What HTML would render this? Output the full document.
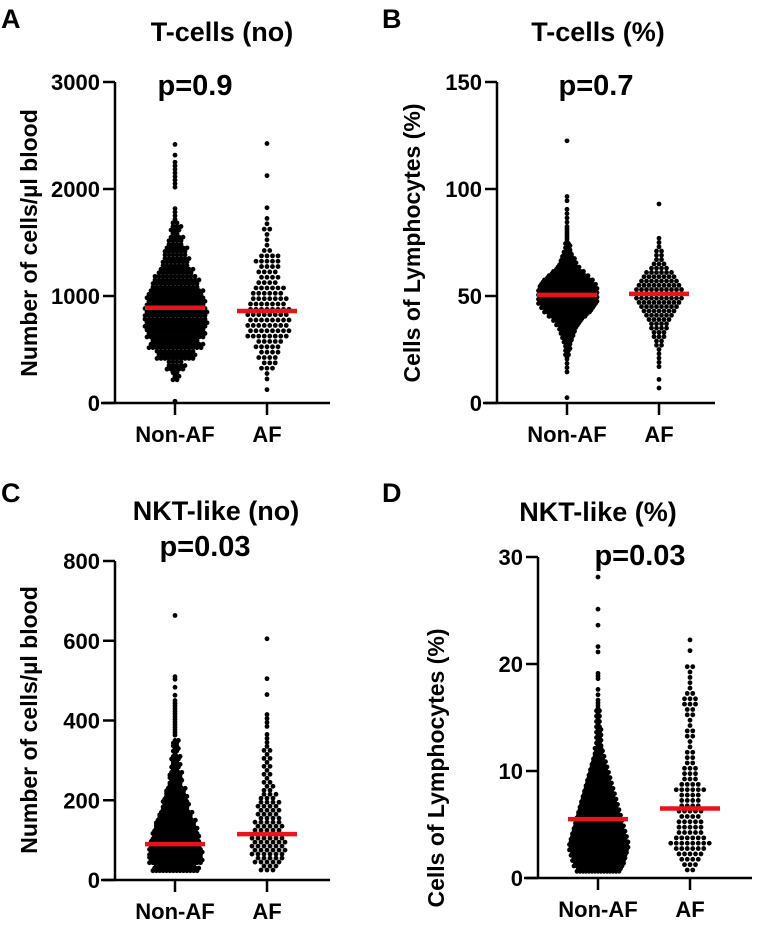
<!DOCTYPE html>
<html><head><meta charset="utf-8"><style>
body{margin:0;background:#fff}
svg{display:block;font-family:"Liberation Sans",Arial,sans-serif;font-weight:bold}
</style></head><body>
<svg id="c" width="760" height="927" viewBox="0 0 760 927"></svg>
<script>
// Binned counts (start value 0, bin step, counts per bin)
const categories = ["Non-AF", "AF"];
const aTicks = [0, 1000, 2000, 3000];
const bTicks = [0, 50, 100, 150];
const cTicks = [0, 200, 400, 600, 800];
const dTicks = [0, 10, 20, 30];
const aNonAF = [1,0,6,14,30,40,45,48,48,45,40,35,25,20,16,10,8,3,1,0,3,3,2,1,1];
const aAF = [0,1,2,6,8,10,16,16,16,14,12,8,8,9,3,2,3,1,1,0,0,1,0,0,1];
const bNonAF = [0,1,0,0,0,0,0,1,1,1,2,3,4,4,6,8,10,12,16,20,26,32,36,40,40,40,40,38,34,28,22,16,12,10,7,5,4,3,2,2,2,1,1,1,1,1,0,1,1,0,0,0,0,0,0,0,0,0,0,0,0,1];
const bAF = [0,0,0,1,0,1,0,0,1,1,1,1,1,2,2,3,3,4,4,5,6,7,8,9,10,10,10,9,8,7,6,4,3,2,2,2,1,1,1,0,0,0,0,0,0,0,1];
const cNonAF = [0,40,48,48,45,42,38,34,28,24,20,16,12,10,8,7,6,4,3,3,3,3,2,1,1,2,0,0,0,0,0,0,0,1];
const cAF = [0,6,10,12,12,11,10,9,8,8,6,4,3,3,3,3,3,2,1,2,2,0,0,1,0,1,0,0,0,0,1];
const dNonAF = [0,30,34,36,38,40,40,38,36,34,32,30,28,26,24,22,20,18,16,14,12,10,8,6,5,4,4,4,3,3,3,3,2,1,1,1,0,2,1,0,0,0,1,1,0,0,0,1,0,0,1,0,0,0,0,0,1];
const dAF = [0,2,3,4,5,6,8,6,5,5,5,4,5,4,4,4,6,4,3,3,3,2,2,2,1,1,2,2,1,1,2,2,3,3,2,1,1,1,1,2,0,0,1,0,1];
const aMeans = [890, 860];
const bMeans = [50.5, 51];
const cMeans = [90, 115];
const dMeans = [5.5, 6.5];

const NS="http://www.w3.org/2000/svg", svg=document.getElementById('c');
function mk(t,a,p){const e=document.createElementNS(NS,t);for(const k in a)e.setAttribute(k,a[k]);(p||svg).appendChild(e);return e;}
function txt(s,x,y,size,anchor,p,rot){const e=mk('text',{x:x,y:y,'font-size':size,'text-anchor':anchor||'middle'},p);if(rot)e.setAttribute('transform','rotate(-90 '+x+' '+y+')');e.textContent=s;return e;}

const panels=[
 {id:'a',letter:'A',lx:1,ly:28,title:'T-cells (no)',tx:222,ty:41,p:'p=0.9',px:195,py:95,ylab:'Number of cells/µl blood',ylx:37,yly:243,
  ax:115,y0:403,yt:82,xe:330,cx:[175,267],max:3000,ticks:aTicks,step:100,data:[aNonAF,aAF],means:aMeans,sp:[[4,3.5],[5.5,5]]},
 {id:'b',letter:'B',lx:382,ly:28,title:'T-cells (%)',tx:598,ty:41,p:'p=0.7',px:596,py:95,ylab:'Cells of Lymphocytes (%)',ylx:420,yly:243,
  ax:497,y0:403,yt:82,xe:715,cx:[567,659],max:150,ticks:bTicks,step:2,data:[bNonAF,bAF],means:bMeans,sp:[[3,2.2],[5,4.3]]},
 {id:'c',letter:'C',lx:1,ly:502,title:'NKT-like (no)',tx:216,ty:520,p:'p=0.03',px:205,py:556,ylab:'Number of cells/µl blood',ylx:37,yly:720,
  ax:115,y0:880,yt:561,xe:330,cx:[175,267],max:800,ticks:cTicks,step:20,data:[cNonAF,cAF],means:cMeans,sp:[[3.4,2.7],[6,4]]},
 {id:'d',letter:'D',lx:382,ly:502,title:'NKT-like (%)',tx:598,ty:521,p:'p=0.03',px:640,py:565,ylab:'Cells of Lymphocytes (%)',ylx:444,yly:768,
  ax:538,y0:878,yt:557,xe:752,cx:[598,690],max:30,ticks:dTicks,step:0.5,data:[dNonAF,dAF],means:dMeans,sp:[[3,2.7],[5.5,5.35]]}
];
panels.forEach(P=>{
  const g=mk('g',{});
  
  
  const Y=v=>P.y0-(v/P.max)*(P.y0-P.yt);
  let e=txt(P.letter,P.lx,P.ly,27,'start',g);
  
  e=txt(P.title,P.tx,P.ty,27,'middle',g);
  
  e=txt(P.p,P.px,P.py,29,'middle',g);
  
  e=txt(P.ylab,P.ylx,P.yly,23,'middle',g,true);
  
  e=mk('line',{x1:P.ax,y1:P.yt,x2:P.ax,y2:P.y0,stroke:'#000','stroke-width':2.5},g);
  
  e=mk('line',{x1:P.ax-14,y1:P.y0,x2:P.xe,y2:P.y0,stroke:'#000','stroke-width':2.5},g);
  
  P.ticks.forEach(t=>{
    const y=Y(t);
    const l=mk('line',{x1:P.ax-12,y1:y,x2:P.ax,y2:y,stroke:'#000','stroke-width':2.5},g);
    
    const tl=txt(String(t),P.ax-15,y+8,22,'end',g);
    
  });
  categories.forEach((c,i)=>{
    const x=P.cx[i];
    const l=mk('line',{x1:x,y1:P.y0,x2:x,y2:P.y0+12,stroke:'#000','stroke-width':2.5},g);
    
    const tl=txt(c,x,P.y0+39,22,'middle',g);
    
    const counts=P.data[i];
    const [sx,sy]=P.sp[i];
    const dg=mk('g',{fill:'#000'},g);
    
    
    counts.forEach((n,b)=>{
      if(!n)return;
      const v0=b*P.step, v1=(b+1)*P.step;
      const ya=Y(v0), yb=Y(v1), h=ya-yb;
      const rows=Math.max(1,Math.round(h/sy));
      const cols=Math.ceil(n/rows);
      let k=0;
      for(let r=0;r<rows&&k<n;r++){
        const inRow=Math.min(cols,n-k);
        const off=(r%2)*sx*0.5;
        for(let cI=0;cI<inRow;cI++,k++){
          const dx=(cI-(inRow-1)/2)*sx+(inRow>1?off:0);
          const dy=ya-(r+0.5)*h/rows;
          const d=mk('circle',{cx:x+dx,cy:dy,r:2.4},dg);
          
          
        }
      }
    });
    const m=mk('line',{x1:x-30,y1:Y(P.means[i]),x2:x+30,y2:Y(P.means[i]),stroke:'#e8141b','stroke-width':4.5},g);
    
    
  });
});
</script>
</body></html>
